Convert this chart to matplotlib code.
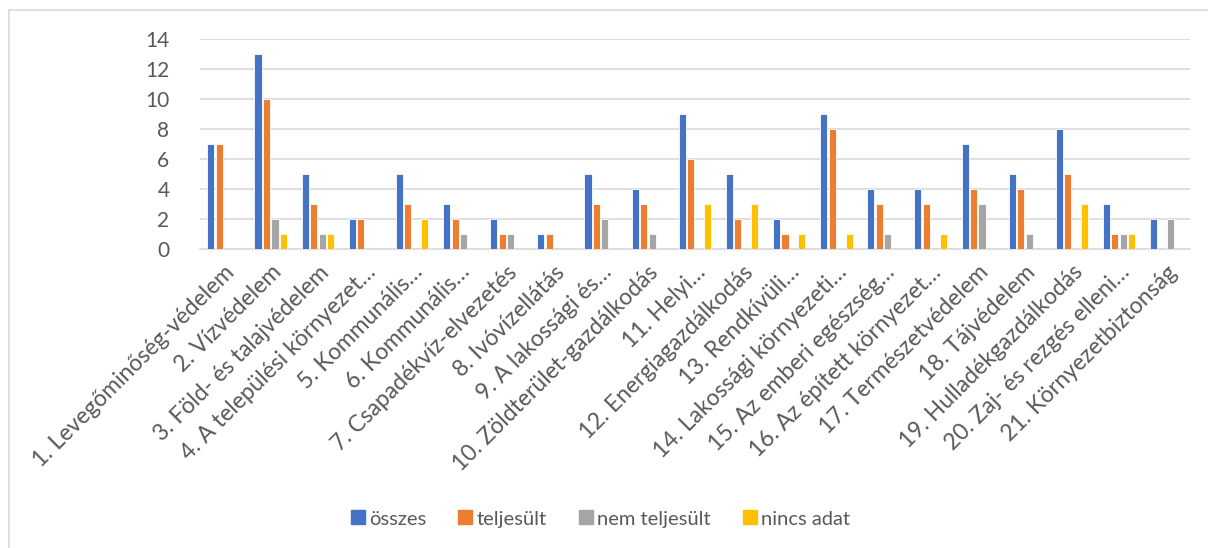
import matplotlib
matplotlib.use("Agg")
import matplotlib.pyplot as plt
import numpy as np
from matplotlib.lines import Line2D

plt.rcParams['font.family'] = ['Lato', 'DejaVu Sans']

categories = [
    "1. Levegőminőség-védelem",
    "2. Vízvédelem",
    "3. Föld- és talajvédelem",
    "4. A települési környezet…",
    "5. Kommunális…",
    "6. Kommunális…",
    "7. Csapadékvíz-elvezetés",
    "8. Ivóvízellátás",
    "9. A lakossági és…",
    "10. Zöldterület-gazdálkodás",
    "11. Helyi…",
    "12. Energiagazdálkodás",
    "13. Rendkívüli…",
    "14. Lakossági környezeti…",
    "15. Az emberi egészség…",
    "16. Az épített környezet…",
    "17. Természetvédelem",
    "18. Tájvédelem",
    "19. Hulladékgazdálkodás",
    "20. Zaj- és rezgés elleni…",
    "21. Környezetbiztonság",
]

osszes = [7, 13, 5, 2, 5, 3, 2, 1, 5, 4, 9, 5, 2, 9, 4, 4, 7, 5, 8, 3, 2]
teljesult = [7, 10, 3, 2, 3, 2, 1, 1, 3, 3, 6, 2, 1, 8, 3, 3, 4, 4, 5, 1, 0]
nem_teljesult = [0, 2, 1, 0, 0, 1, 1, 0, 2, 1, 0, 0, 0, 0, 1, 0, 3, 1, 0, 1, 2]
nincs_adat = [0, 1, 1, 0, 2, 0, 0, 0, 0, 0, 3, 3, 1, 1, 0, 1, 0, 0, 3, 1, 0]

series_names = ["összes", "teljesült", "nem teljesült", "nincs adat"]
series_values = [osszes, teljesult, nem_teljesult, nincs_adat]
colors = ["#4472C4", "#ED7D31", "#A5A5A5", "#FFC000"]

text_color = "#595959"

fig = plt.figure(figsize=(12.08, 5.48), dpi=100)
ax = fig.add_axes([0.1656, 0.5456, 0.8194, 0.3832])

x = np.arange(len(categories))
step = 0.18
width = 0.15
for i, (name, vals, c) in enumerate(zip(series_names, series_values, colors)):
    ax.bar(x + (i - 1.5) * step, vals, width=width, color=c, label=name,
           edgecolor="white", linewidth=0.6, zorder=3)

ax.set_xlim(-0.5, len(categories) - 0.5)
ax.set_ylim(0, 14)
ax.set_yticks(range(0, 15, 2))
ax.yaxis.grid(True, color="#D9D9D9", linewidth=1.2, zorder=0)
ax.set_axisbelow(True)
for s in ["top", "right", "left"]:
    ax.spines[s].set_visible(False)
ax.spines["bottom"].set_color("#D9D9D9")
ax.spines["bottom"].set_linewidth(1.2)
ax.tick_params(axis="both", length=0, colors=text_color)
ax.tick_params(axis="y", labelsize=15, pad=22)
ax.set_xticks(x)
ax.set_xticklabels(categories, rotation=45, ha="right", rotation_mode="anchor",
                   fontsize=16.5, color=text_color)
ax.tick_params(axis="x", pad=9)

handles = [Line2D([], [], marker="s", linestyle="none", markersize=10,
                  markerfacecolor=c, markeredgecolor=c) for c in colors]
fig.legend(handles, series_names, loc="center", bbox_to_anchor=(0.497, 0.053),
           ncol=4, frameon=False, fontsize=14.5, handletextpad=0.2,
           handlelength=0.7, columnspacing=1.6, labelcolor=text_color)

# chart area frame (top and left edges)
fig.add_artist(Line2D([9 / 1208, 9 / 1208], [0, 1 - 10 / 548],
                      transform=fig.transFigure, color="#D9D9D9", linewidth=1.2))
fig.add_artist(Line2D([9 / 1208, 1], [1 - 10 / 548, 1 - 10 / 548],
                      transform=fig.transFigure, color="#D9D9D9", linewidth=1.2))

fig.savefig("out.png", dpi=100, facecolor="white")
